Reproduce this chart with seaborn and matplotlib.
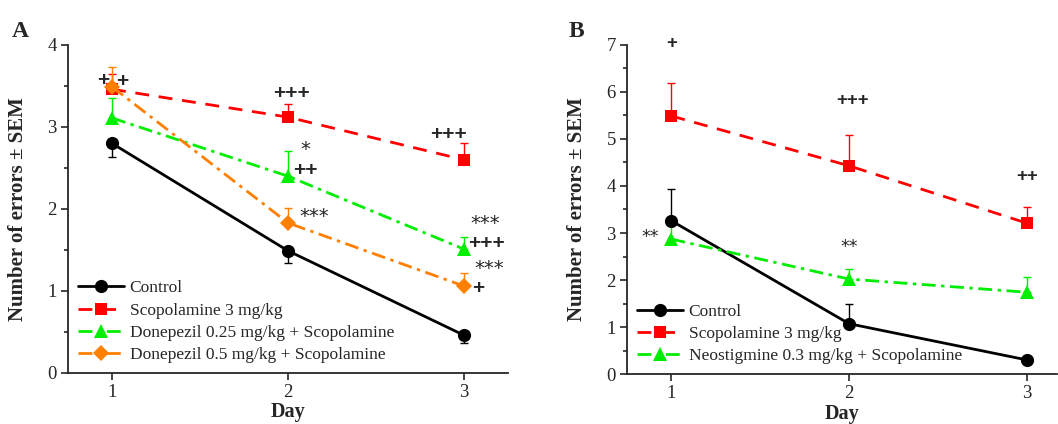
import pandas as pd
import matplotlib.pyplot as plt
import seaborn as sns
from matplotlib.ticker import MultipleLocator

# ─── Data ─────────────────────────────────────────────────────────────
DAYS = [1, 2, 3]

# Panel A
A_CONTROL = [2.80, 1.49, 0.46]
A_CONTROL_SEM = [0.16, 0.15, 0.09]
A_SCOP = [3.46, 3.12, 2.60]
A_SCOP_SEM = [0.19, 0.16, 0.20]
A_DON025 = [3.11, 2.40, 1.51]
A_DON025_SEM = [0.24, 0.31, 0.15]
A_DON05 = [3.49, 1.83, 1.06]
A_DON05_SEM = [0.24, 0.18, 0.16]

# Panel B
B_CONTROL = [3.26, 1.07, 0.30]
B_CONTROL_SEM = [0.68, 0.42, 0.0]
B_SCOP = [5.49, 4.43, 3.21]
B_SCOP_SEM = [0.70, 0.66, 0.34]
B_NEO = [2.87, 2.02, 1.74]
B_NEO_SEM = [0.42, 0.21, 0.32]

A_LABELS = ["Control", "Scopolamine 3 mg/kg",
            "Donepezil 0.25 mg/kg + Scopolamine",
            "Donepezil 0.5 mg/kg + Scopolamine"]
B_LABELS = ["Control", "Scopolamine 3 mg/kg",
            "Neostigmine 0.3 mg/kg + Scopolamine"]

# significance marks: (day, y, text)
A_MARKS = [(0.95, 3.57, "+"), (1.06, 3.55, "+"), (2.02, 3.41, "+++"), (2.91, 2.91, "+++"),
           (2.1, 2.72, "*"), (2.1, 2.47, "++"), (2.15, 1.91, "***"),
           (3.12, 1.82, "***"), (3.13, 1.58, "+++"),
           (3.14, 1.28, "***"), (3.08, 1.03, "+")]
B_MARKS = [(1.0, 7.04, "+"), (2.02, 5.81, "+++"), (3.0, 4.21, "++"),
           (0.88, 2.91, "**"), (2.0, 2.70, "**")]

# ─── Styles ───────────────────────────────────────────────────────────
DASHDOT = (0, (5, 2, 1.2, 2))
STYLES = {
    "Control": dict(color="black", marker="o", ls="-"),
    "Scopolamine 3 mg/kg": dict(color="#ff0000", marker="s", ls=(0, (5, 3.5))),
    "Donepezil 0.25 mg/kg + Scopolamine": dict(color="#00ee00", marker="^", ls=DASHDOT),
    "Donepezil 0.5 mg/kg + Scopolamine": dict(color="#ff8000", marker="D", ls=DASHDOT),
    "Neostigmine 0.3 mg/kg + Scopolamine": dict(color="#00ee00", marker="^", ls=DASHDOT),
}
MSIZE = {"o": 9.5, "s": 8.5, "^": 10, "D": 8.5}

sns.set_style("ticks")
plt.rcParams['font.family'] = ['Liberation Serif', 'DejaVu Serif']

fig = plt.figure(figsize=(10.58, 4.24), dpi=100)
axA = fig.add_axes([0.0643, 0.1203, 0.4159, 0.7736])
axB = fig.add_axes([0.5926, 0.1179, 0.4064, 0.776])


def draw_panel(ax, labels, means, sems, marks, ymax, xmax, control_down, mark_size, plus_weight):
    rows = []
    for lab, m in zip(labels, means):
        for d, v in zip(DAYS, m):
            rows.append({"Day": d, "errors": v, "group": lab})
    df = pd.DataFrame(rows)
    for lab, sem in zip(labels, sems):
        st = STYLES[lab]
        sub = df[df["group"] == lab]
        down = control_down and lab == "Control"
        zeros = [0] * len(sem)
        yerr = [sem, zeros] if down else [zeros, sem]
        ax.errorbar(sub["Day"], sub["errors"], yerr=yerr, fmt="none",
                    ecolor=st["color"], elinewidth=1.0, capsize=3, capthick=1.0, zorder=2)
        sns.lineplot(data=sub, x="Day", y="errors", ax=ax, color=st["color"],
                     marker=st["marker"], markersize=MSIZE[st["marker"]],
                     markeredgewidth=0, linewidth=2.0, label=lab, zorder=3)
        ax.lines[-1].set_linestyle(st["ls"])
    for x, y, t in marks:
        if "+" in t:
            ax.text(x, y, t, ha="center", va="center", fontsize=mark_size + 1,
                    family="Liberation Sans", fontweight=plus_weight, clip_on=False)
        else:
            ax.text(x, y, t, ha="center", va="center", fontsize=mark_size,
                    family="DejaVu Sans", clip_on=False)
    ax.set_xlim(0.75, xmax)
    ax.set_ylim(0, ymax)
    ax.set_xticks(DAYS)
    ax.yaxis.set_major_locator(MultipleLocator(1))
    ax.yaxis.set_minor_locator(MultipleLocator(0.5))
    ax.tick_params(axis="both", which="major", labelsize=13.5, length=5, width=1.2,
                   direction="out", pad=3)
    ax.tick_params(axis="y", which="minor", length=3, width=1.2, direction="out")
    for sp in ["left", "bottom"]:
        ax.spines[sp].set_linewidth(1.3)
    sns.despine(ax=ax)
    ax.set_xlabel("Day", fontsize=14.5, fontweight="bold", labelpad=1)
    ax.set_ylabel("Number of errors \u00b1 SEM", fontsize=15, fontweight="bold", labelpad=14)
    ax.legend(loc="lower left", frameon=False, fontsize=12.5, handlelength=2.7,
              handletextpad=0.3, labelspacing=0.36, borderaxespad=0.15)


draw_panel(axA, A_LABELS, [A_CONTROL, A_SCOP, A_DON025, A_DON05],
           [A_CONTROL_SEM, A_SCOP_SEM, A_DON025_SEM, A_DON05_SEM], A_MARKS,
           4, 3.25, True, 14, "bold")
draw_panel(axB, B_LABELS, [B_CONTROL, B_SCOP, B_NEO],
           [B_CONTROL_SEM, B_SCOP_SEM, B_NEO_SEM], B_MARKS,
           7, 3.17, False, 12.5, "bold")

fig.text(0.011, 0.913, "A", fontsize=17, fontweight="bold")
fig.text(0.537, 0.913, "B", fontsize=17, fontweight="bold")

fig.savefig("out.png", dpi=100)
